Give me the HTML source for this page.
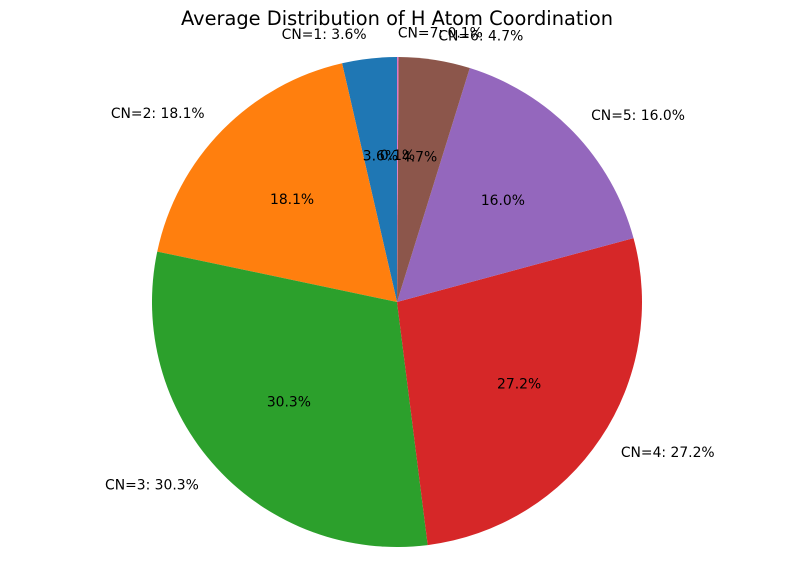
<!DOCTYPE html>
<html><head><meta charset="utf-8"><style>
body{margin:0;background:#fff;}
svg text{font-family:"DejaVu Sans","Liberation Sans",sans-serif;}
</style></head><body>
<svg id="chart" width="794" height="582" xmlns="http://www.w3.org/2000/svg">
<rect width="794" height="582" fill="#fff"/>
<text x="397" y="25" text-anchor="middle" font-size="19.4">Average Distribution of H Atom Coordination</text>
<g id="slices"></g><g id="labels"></g>
</svg>
<script>
const categories = ["CN=1","CN=2","CN=3","CN=4","CN=5","CN=6","CN=7"];
const values = [3.6, 18.1, 30.3, 27.2, 16.0, 4.7, 0.1];
const colors = ["#1f77b4","#ff7f0e","#2ca02c","#d62728","#9467bd","#8c564b","#e377c2"];
const cx = 397, cy = 302, r = 245;
const NS = "http://www.w3.org/2000/svg";
const total = values.reduce((a,b)=>a+b,0);
const gs = document.getElementById("slices"), gl = document.getElementById("labels");
function pt(deg, rad){ const a = deg*Math.PI/180; return [cx + rad*Math.cos(a), cy - rad*Math.sin(a)]; }
let start = 90;
values.forEach((v,i)=>{
  const sweep = v/total*360, end = start + sweep;
  const [x1,y1] = pt(start,r), [x2,y2] = pt(end,r);
  const p = document.createElementNS(NS,"path");
  p.setAttribute("d",`M${cx},${cy} L${x1},${y1} A${r},${r} 0 ${sweep>180?1:0} 0 ${x2},${y2} Z`);
  p.setAttribute("fill",colors[i]);
  
  
  gs.appendChild(p);
  const mid = start + sweep/2;
  const [lx,ly] = pt(mid, r*1.1);
  const t = document.createElementNS(NS,"text");
  t.setAttribute("x",lx); t.setAttribute("y",ly+4.8);
  t.setAttribute("font-size","13.9");
  t.setAttribute("text-anchor", Math.cos(mid*Math.PI/180) >= 0 ? "start" : "end");
  t.textContent = categories[i] + ": " + v.toFixed(1) + "%";
  
  
  gl.appendChild(t);
  const [px,py] = pt(mid, r*0.6);
  const q = document.createElementNS(NS,"text");
  q.setAttribute("x",px); q.setAttribute("y",py+4.8);
  q.setAttribute("font-size","13.9"); q.setAttribute("text-anchor","middle");
  q.textContent = v.toFixed(1) + "%";
  
  
  gl.appendChild(q);
  start = end;
});
</script>
</body></html>
